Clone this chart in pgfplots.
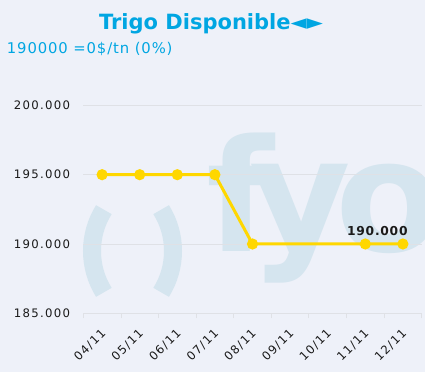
\documentclass[border=0pt]{standalone}
\usepackage{pgfplots}
\pgfplotsset{compat=1.18}
\usepackage{fontspec}
\setmainfont{DejaVu Sans}
\newfontfamily\tickfont[LetterSpace=11]{DejaVu Sans}
\newfontfamily\subfont[LetterSpace=6]{DejaVu Sans}
\newfontfamily\lblfont[LetterSpace=6]{DejaVu Sans Bold}
\definecolor{bg}{HTML}{EEF1F9}
\definecolor{wm}{HTML}{D5E5EF}
\definecolor{ttl}{HTML}{00A6E2}
\definecolor{gld}{HTML}{FFD700}
\definecolor{grd}{HTML}{DFE1E6}
\definecolor{txt}{HTML}{1A1A1A}
\begin{document}
\begin{tikzpicture}[x=1pt,y=1pt]
\fill[bg] (0,0) rectangle (425,372);
\useasboundingbox (0,0) rectangle (425,372);
\begin{scope}
\clip (0,0) rectangle (425,372);
\draw[wm, line width=18pt] (170,121) ++(148:78) arc[start angle=148,end angle=212,radius=78];
\draw[wm, line width=18pt] (95,121) ++(-32:78) arc[start angle=-32,end angle=32,radius=78];
\node[wm, anchor=base west, inner sep=0pt, font=\bfseries\fontsize{156}{156}\selectfont] at (206,120) {f};
\node[wm, anchor=base west, inner sep=0pt, font=\bfseries\fontsize{156}{156}\selectfont] at (249,122) {y};
\node[wm, anchor=base west, inner sep=0pt, font=\bfseries\fontsize{156}{156}\selectfont] at (335,120) {o};
\end{scope}
\node[ttl, anchor=base, inner sep=0pt, font=\bfseries\fontsize{21}{21}\selectfont] at (211,342) {Trigo Disponible◄►};
\node[ttl, anchor=base west, inner sep=0pt, font=\subfont\fontsize{14.8}{14.8}\selectfont] at (6.7,318) {190000 =0\$/tn (0\%)};
\begin{axis}[
  at={(83.3pt,58.7pt)}, anchor=south west,
  scale only axis, width=338.4pt, height=249.5pt,
  xmin=-0.5, xmax=8.5, ymin=185000, ymax=203000,
  axis line style={draw=none},
  clip=false,
  scaled y ticks=false,
  xtick pos=bottom, ytick pos=left,
  ytick={185000,190000,195000,200000},
  yticklabels={185.000,190.000,195.000,200.000},
  xtick={0,...,8},
  xticklabels={04/11,05/11,06/11,07/11,08/11,09/11,10/11,11/11,12/11},
  minor xtick={-0.5,0.5,...,8.5},
  major tick length=0pt,
  minor tick length=5pt,
  tick align=outside,
  minor tick style={grd, line width=0.8pt},
  ymajorgrids,
  grid style={grd, line width=0.8pt},
  ticklabel style={txt, font=\tickfont\fontsize{11.7}{11.7}\selectfont},
  yticklabel style={anchor=east, inner sep=0pt, xshift=-13pt},
  xticklabel style={rotate=45, anchor=north east, inner sep=0pt, yshift=-8.8pt, xshift=-11.5pt},
]
\addplot[gld, line width=3pt, mark=*, mark size=4pt, mark options={solid, fill=gld, draw=none}]
  coordinates {(0,195000)(1,195000)(2,195000)(3,195000)(4,190000)(7,190000)(8,190000)};
\node[txt, anchor=base, inner sep=0pt, font=\lblfont\fontsize{12.3}{12.3}\selectfont] at (axis cs:7.32,190000) [yshift=8pt] {190.000};
\end{axis}
\end{tikzpicture}
\end{document}
